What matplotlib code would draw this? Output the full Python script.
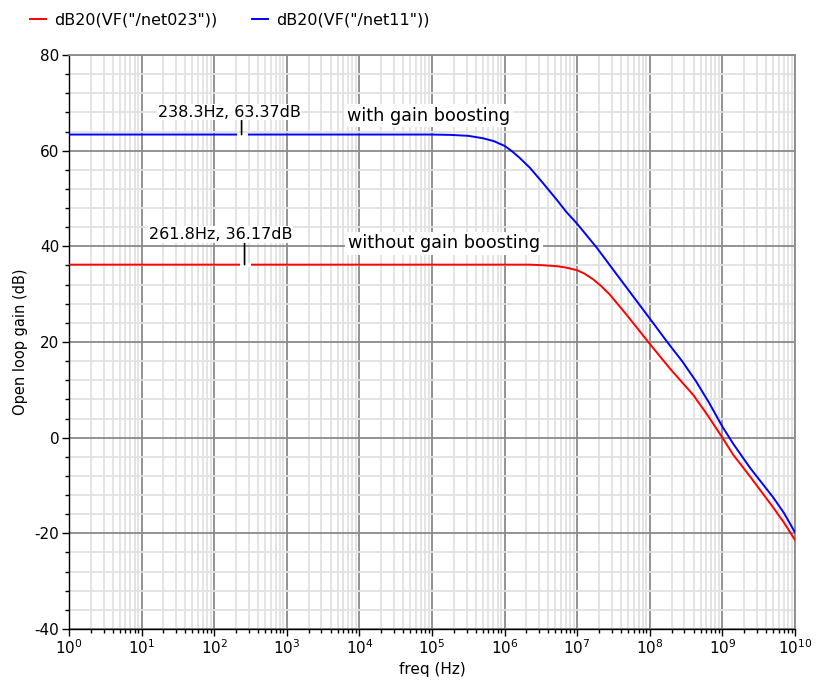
import numpy as np
import matplotlib
matplotlib.use("Agg")
import matplotlib.pyplot as plt
from matplotlib.ticker import (LogLocator, MultipleLocator, FixedLocator,
                               LogFormatterMathtext, NullFormatter)

plt.rcParams["axes.unicode_minus"] = False

# Open-loop gain of the amplifier, with and without gain boosting
# (frequency given as log10 of Hz, gain in dB)
boost_log_f = [0.0, 5.0, 5.25, 5.5, 5.7, 5.85, 6.0, 6.1, 6.2, 6.35, 6.53, 6.72, 6.85,
               7.0, 7.27, 7.59, 8.0, 8.255, 8.45, 8.64, 8.82, 9.0, 9.15, 9.38, 9.7,
               9.85, 10.0]
boost_gain = [63.37, 63.37, 63.30, 63.10, 62.60, 62.00, 61.00, 59.90, 58.60, 56.40,
              53.20, 49.70, 47.20, 44.70, 39.70, 33.20, 24.90, 19.70, 15.90, 11.70,
              7.20, 2.30, -1.30, -6.30, -12.50, -15.80, -19.80]

plain_log_f = [0.0, 6.35, 6.5, 6.72, 6.85, 7.0, 7.1, 7.22, 7.33, 7.45, 7.68, 8.0,
               8.28, 8.6, 8.8, 9.0, 9.15, 9.38, 9.7, 9.85, 10.0]
plain_gain = [36.17, 36.17, 36.07, 35.85, 35.55, 35.00, 34.30, 33.10, 31.70, 29.90,
              25.70, 19.60, 14.40, 8.90, 4.60, 0.00, -3.60, -8.10, -14.60, -17.80,
              -21.40]

decades = list(range(0, 11))

series_names = ['dB20(VF("/net023"))', 'dB20(VF("/net11"))']
annotations = ["with gain boosting", "without gain boosting"]

# cursor readouts
marker_freq = [238.3, 261.8]
marker_gain = [63.37, 36.17]

fig = plt.figure(figsize=(8.19, 6.83), dpi=100)
ax = fig.add_axes([69 / 819, 1 - 629 / 683, 726 / 819, 574 / 683])

f_boost = 10 ** np.array(boost_log_f)
f_plain = 10 ** np.array(plain_log_f)

RED = "#ff0000"
BLUE = "#0000ff"

l_red, = ax.plot(f_plain, plain_gain, color=RED, lw=1.4, zorder=3)
l_blue, = ax.plot(f_boost, boost_gain, color=BLUE, lw=1.4, zorder=3)

ax.set_xscale("log")
ax.set_xlim(1, 1e10)
ax.set_ylim(-40, 80)

ax.xaxis.set_major_locator(FixedLocator([10.0 ** k for k in decades]))
ax.xaxis.set_minor_locator(LogLocator(base=10, subs=np.arange(2, 10), numticks=100))
ax.xaxis.set_major_formatter(LogFormatterMathtext())
ax.xaxis.set_minor_formatter(NullFormatter())
ax.yaxis.set_major_locator(MultipleLocator(20))
ax.yaxis.set_minor_locator(MultipleLocator(4))

ax.grid(which="minor", color="#e2e2e2", lw=1.3, zorder=0)
ax.grid(which="major", color="#8a8a8a", lw=1.3, zorder=1)
ax.set_axisbelow(True)

for s in ("top", "right"):
    ax.spines[s].set_color("#8a8a8a")
    ax.spines[s].set_linewidth(1.3)
for s in ("left", "bottom"):
    ax.spines[s].set_color("black")
    ax.spines[s].set_linewidth(1.0)

ax.tick_params(which="major", direction="out", length=5, width=1, labelsize=11, pad=2)
ax.tick_params(which="minor", direction="out", length=3, width=1)

ax.set_xlabel("freq (Hz)", fontsize=11, labelpad=3)
ax.set_ylabel("Open loop gain (dB)", fontsize=10.5, labelpad=5)

# curve annotations with white background
box = dict(boxstyle="square,pad=0.15", fc="white", ec="none")
ax.text(0.383, 0.894, annotations[0], transform=ax.transAxes, ha="left", va="center",
        fontsize=12.7, bbox=box, zorder=4)
ax.text(0.384, 0.672, annotations[1], transform=ax.transAxes, ha="left", va="center",
        fontsize=12.7, bbox=box, zorder=4)

# cursor markers: gap in the trace, short vertical tick, readout label
px = 0.72  # points per pixel at 100 dpi
tick_len = [14, 27]
label_off = [(-12.5, 22.5), (-24, 30)]
for f, g, tl, (dx, dy) in zip(marker_freq, marker_gain, tick_len, label_off):
    ax.plot([f], [g], marker="_", ms=11 * px, mew=3.0, color="white", zorder=4)
    ax.annotate("", xy=(f, g), xytext=(0, tl * px), textcoords="offset points",
                arrowprops=dict(arrowstyle="-", color="black", lw=1.2,
                                shrinkA=0, shrinkB=0), zorder=5)
    ax.annotate(f"{f:g}Hz, {g:.2f}dB", xy=(f, g), xytext=(dx * px, dy * px),
                textcoords="offset points", ha="center", va="center",
                fontsize=11.5, zorder=5,
                bbox=dict(boxstyle="square,pad=0.05", fc="white", ec="none"))

fig.legend([l_red, l_blue], series_names, loc="center left",
           bbox_to_anchor=(30 / 819, 1 - 20 / 683), ncol=2, frameon=False,
           fontsize=11.5, handlelength=1.0, handletextpad=0.5, columnspacing=2.2,
           borderpad=0, borderaxespad=0)

fig.savefig("out.png", dpi=100)
